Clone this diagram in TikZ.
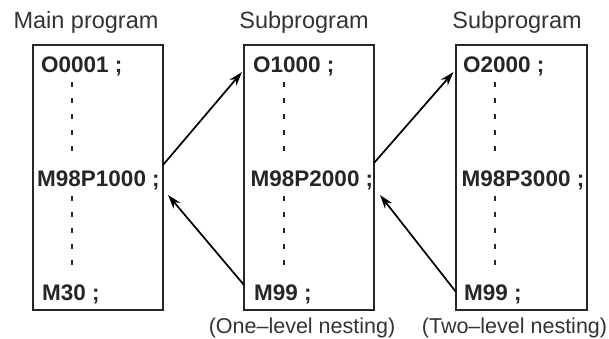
\documentclass[tikz,border=0pt]{standalone}
\usepackage{fontspec}
\setmainfont{Liberation Sans}
\usetikzlibrary{arrows.meta}
\begin{document}
\begin{tikzpicture}[x=1pt,y=-1pt,
  progbox/.style={draw=black!85,line width=1.8pt},
  title/.style={font=\fontsize{23.5}{26}\selectfont,text=black!80,anchor=base,inner sep=0pt},
  codeline/.style={font=\bfseries\fontsize{22.5}{25}\selectfont,text=black!85,anchor=base west,inner sep=0pt},
  note/.style={font=\fontsize{21.5}{24}\selectfont,text=black!80,anchor=base,inner sep=0pt},
  dots/.style={draw=black!85,line width=1.8pt,dash pattern=on 5pt off 11pt},
  callarrow/.style={draw=black,line width=1.7pt,-{Stealth[length=14pt,width=9pt]}}]
\useasboundingbox (0,0) rectangle (609,338);
% boxes
\draw[progbox] (33,45) rectangle (163,310);
\draw[progbox] (244,45) rectangle (374,310);
\draw[progbox] (456,45) rectangle (587,310);
% titles
\node[title] (t1) at (86,28) {Main program};
\node[title] (t2) at (304,28) {Subprogram};
\node[title] (t3) at (517,28) {Subprogram};
% code lines
\node[codeline] (o1) at (41,72) {O0001 ;};
\node[codeline] (m1) at (37,186) {M98P1000 ;};
\node[codeline] (e1) at (42,300) {M30 ;};
\node[codeline] (o2) at (253,72) {O1000 ;};
\node[codeline] (m2) at (250.5,186) {M98P2000 ;};
\node[codeline] (e2) at (254,300) {M99 ;};
\node[codeline] (o3) at (463,72) {O2000 ;};
\node[codeline] (m3) at (461.5,186) {M98P3000 ;};
\node[codeline] (e3) at (464,300) {M99 ;};
% dotted continuation lines
\draw[dots] (71.7,82) -- (71.7,160);
\draw[dots] (71.7,196) -- (71.7,274);
\draw[dots] (284.3,82) -- (284.3,160);
\draw[dots] (284.3,196) -- (284.3,274);
\draw[dots] (495,82) -- (495,160);
\draw[dots] (495,196) -- (495,274);
% notes
\node[note] (n1) at (302,333) {(One–level nesting)};
\node[note] (n2) at (514.5,333) {(Two–level nesting)};
% arrow anchors
\coordinate (c1s) at (163,165);
\coordinate (c1e) at (242,72);
\coordinate (r1s) at (244,285);
\coordinate (r1e) at (168,195);
\coordinate (c2s) at (374,163);
\coordinate (c2e) at (453.5,72);
\coordinate (r2s) at (456,292);
\coordinate (r2e) at (380,195);
\draw[callarrow] (c1s) -- (c1e);
\draw[callarrow] (r1s) -- (r1e);
\draw[callarrow] (c2s) -- (c2e);
\draw[callarrow] (r2s) -- (r2e);
\end{tikzpicture}
\end{document}
